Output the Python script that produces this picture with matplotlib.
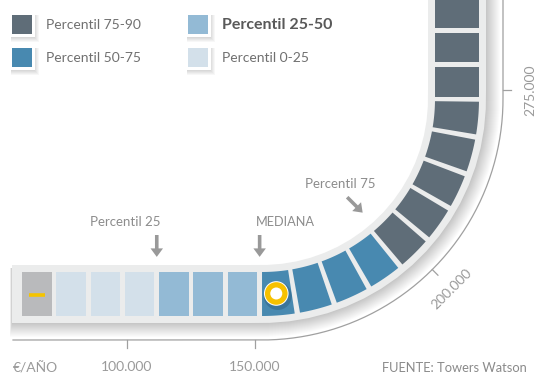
import numpy as np
import matplotlib.pyplot as plt
from matplotlib.patches import Polygon, Rectangle, Circle, FancyArrow

# Tramos salariales de cada casilla del recorrido (de izquierda a la parte superior)
cell_band = ["ref",
             "0-25", "0-25", "0-25",
             "25-50", "25-50", "25-50",
             "50-75", "50-75", "50-75", "50-75",
             "75-90", "75-90", "75-90", "75-90", "75-90", "75-90", "75-90", "75-90"]
median_cell = 7

band_colors = {"ref": "#b9babc", "0-25": "#d3e0ea", "25-50": "#93bad5",
               "50-75": "#4889b0", "75-90": "#5f6d78"}

legend_keys = ["75-90", "50-75", "25-50", "0-25"]
legend_labels = ["Percentil 75-90", "Percentil 50-75", "Percentil 25-50", "Percentil 0-25"]

# Marcas en los cambios de tramo
marker_pairs = [("0-25", "25-50"), ("25-50", "50-75"), ("50-75", "75-90")]
marker_labels = ["Percentil 25", "MEDIANA", "Percentil 75"]

# Eje de salario (€/año)
tick_labels = ["100.000", "150.000", "200.000", "275.000"]
tick_s = [105, 233, 393, 555]   # posición a lo largo del recorrido

FONT = "Lato"
W, H = 535, 376

# Geometría del recorrido: tramo recto, cuarto de círculo y tramo vertical
X0, XC, YC, R = 22.0, 262.0, 99.0, 195.0
SA = XC - X0
ARC = np.pi * R / 2
PITCH, CELL = 34.29, 29.5
HALF_BAND, HALF_CELL = 29, 22


def path_xy(s, off=0.0):
    s = np.atleast_1d(np.asarray(s, float))
    x = np.empty_like(s)
    y = np.empty_like(s)
    r = R + off
    a = s < SA
    x[a] = X0 + s[a]
    y[a] = YC + r
    b = (s >= SA) & (s <= SA + ARC)
    th = (s[b] - SA) / R
    x[b] = XC + r * np.sin(th)
    y[b] = YC + r * np.cos(th)
    c = s > SA + ARC
    x[c] = XC + r
    y[c] = YC - (s[c] - SA - ARC)
    return x, y


def angle(s):
    # ángulo de la tangente en radianes (0 horizontal, pi/2 vertical)
    return float(np.clip((s - SA) / R, 0, np.pi / 2))


def strip(s0, s1, off0, off1, n=40):
    ss = np.linspace(s0, s1, n)
    xa, ya = path_xy(ss, off0)
    xb, yb = path_xy(ss[::-1], off1)
    return np.column_stack([np.r_[xa, xb], np.r_[ya, yb]])


fig = plt.figure(figsize=(W / 100, H / 100), dpi=100)
ax = fig.add_axes([0, 0, 1, 1])
ax.set_xlim(0, W)
ax.set_ylim(H, 0)
ax.axis("off")

s_top = SA + ARC + YC + 12
s_left = -10

# sombra de la pista (difusa hacia fuera)
for k in range(14, 0, -1):
    ax.add_patch(Polygon(strip(s_left - k * 0.15, s_top, -HALF_BAND + 3, HALF_BAND + k),
                         closed=True, fc="black", ec="none", alpha=0.017))
# pista
ax.add_patch(Polygon(strip(s_left, s_top, -HALF_BAND, HALF_BAND), closed=True,
                     fc="#ebecec", ec="none"))

# casillas
for i, band in enumerate(cell_band):
    s0 = i * PITCH
    ax.add_patch(Polygon(strip(s0, s0 + CELL, -HALF_CELL, HALF_CELL, 12), closed=True,
                         fc=band_colors[band], ec="none"))

# guion amarillo en la casilla de referencia
gx, gy = path_xy(CELL / 2, 0)
ax.plot([gx[0] - 8, gx[0] + 8], [gy[0] + 1, gy[0] + 1], color="#f5c400", lw=2.6,
        solid_capstyle="butt")

# círculo de la mediana
mx, my = path_xy(median_cell * PITCH + CELL / 2 - 0.5, 0)
mx, my = mx[0], my[0]
ax.add_patch(Circle((mx + 1.5, my + 2.5), 14, fc="#1d4a68", ec="none", alpha=0.3))
ax.add_patch(Circle((mx, my), 12.3, fc="white", ec="none"))
ax.add_patch(Circle((mx, my), 11.3, fc="#f6c100", ec="none"))
ax.add_patch(Circle((mx, my), 6, fc="white", ec="none"))

# flechas de percentiles
arrow_col = "#999999"
text_col = "#8c8c8c"
for (a, b), lab in zip(marker_pairs, marker_labels):
    i = max(j for j, c in enumerate(cell_band) if c == a)
    sb = i * PITCH + CELL + (PITCH - CELL) / 2
    th = angle(sb)
    nx, ny = np.sin(th), np.cos(th)
    tx, ty = path_xy(sb, -HALF_BAND - 8)
    tx, ty = tx[0], ty[0]
    if th > 0.1:
        th_a = np.pi / 4
        nx, ny = np.sin(th_a), np.cos(th_a)
        tx, ty = tx, ty - 8
    L = 22
    ax.add_patch(FancyArrow(tx - nx * L, ty - ny * L, nx * (L - 0.1), ny * (L - 0.1),
                            width=3.6, head_width=12.5, head_length=8.5,
                            length_includes_head=True, fc=arrow_col, ec="none"))
    bx, by = tx - nx * L, ty - ny * L
    if lab == "Percentil 25":
        ax.text(bx + 4, by - 13, lab, ha="right", va="center", fontsize=9.5,
                color=text_col, family=FONT)
    elif lab == "MEDIANA":
        ax.text(bx - 4, by - 13, lab, ha="left", va="center", fontsize=9.2,
                color=text_col, family=FONT)
    else:
        ax.text(bx - 7, by - 13, lab, ha="center", va="center", fontsize=9.5,
                color=text_col, family=FONT)

# eje curvo
ss = np.linspace(-9, s_top + 5, 400)
lx, ly = path_xy(ss, 46)
ax.plot(lx, ly, color="#a0a0a0", lw=0.9)
for s, lab in zip(tick_s, tick_labels):
    th = angle(s)
    x1, y1 = path_xy(s, 46)
    x2, y2 = path_xy(s, 54)
    ax.plot([x1[0], x2[0]], [y1[0], y2[0]], color="#a0a0a0", lw=0.9)
    xl, yl = path_xy(s, 73)
    ax.text(xl[0], yl[0], lab, ha="center", va="center", rotation=np.degrees(th),
            rotation_mode="anchor", fontsize=10, color="#9a9a9a", family=FONT)

ax.text(13, 368, "€/AÑO", ha="left", va="center", fontsize=10, color="#9a9a9a",
        family=FONT)
ax.text(527, 368, "FUENTE: Towers Watson", ha="right", va="center", fontsize=9.3,
        color="#8a8a8a", family=FONT)

# leyenda
legend_pos = [(12, 15), (12, 48), (188, 15), (188, 48)]
for (x0, y0), key, lab in zip(legend_pos, legend_keys, legend_labels):
    for k in range(5, 0, -1):
        ax.add_patch(Rectangle((x0 - 1, y0), 23 + k, 22 + k, fc="black", ec="none",
                               alpha=0.03))
    ax.add_patch(Rectangle((x0 - 2.5, y0 - 2.5), 25, 24, fc="white", ec="none"))
    ax.add_patch(Rectangle((x0, y0), 20, 19, fc=band_colors[key], ec="none"))
    bold = key == "25-50"
    ax.text(x0 + 34, y0 + 10, lab, ha="left", va="center",
            fontsize=11.5 if bold else 10, fontweight="bold" if bold else "normal",
            color="#595959" if bold else "#707070", family=FONT)

fig.savefig("out.png", dpi=100, facecolor="white")
